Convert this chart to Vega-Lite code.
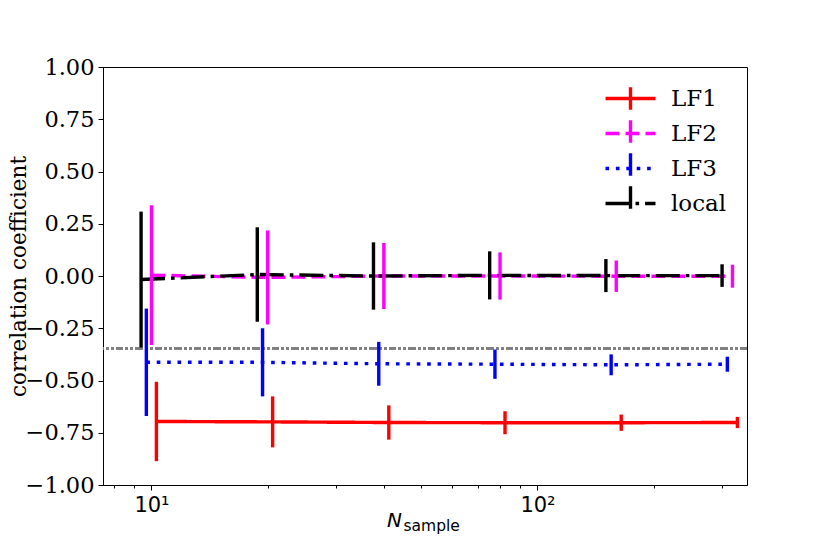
{
  "$schema": "https://vega.github.io/schema/vega-lite/v6.json",
  "width": 644,
  "height": 418,
  "autosize": {"type": "none"},
  "padding": {"left": 103, "top": 67, "right": 83, "bottom": 69},
  "background": "white",
  "config": {
    "view": {"stroke": "black", "strokeWidth": 1},
    "axis": {"grid": false, "domainColor": "black", "tickColor": "black", "labelColor": "black", "titleColor": "black", "domainWidth": 1, "tickWidth": 1}
  },
  "data": {
    "values": [
      {"series": "LF1", "n": 10.3, "r": -0.696, "lo": -0.886, "hi": -0.506},
      {"series": "LF1", "n": 20.6, "r": -0.698, "lo": -0.820, "hi": -0.576},
      {"series": "LF1", "n": 41.2, "r": -0.701, "lo": -0.783, "hi": -0.619},
      {"series": "LF1", "n": 82.4, "r": -0.702, "lo": -0.757, "hi": -0.647},
      {"series": "LF1", "n": 164.8, "r": -0.702, "lo": -0.741, "hi": -0.663},
      {"series": "LF1", "n": 329.6, "r": -0.701, "lo": -0.728, "hi": -0.674},
      {"series": "LF2", "n": 10, "r": 0.004, "lo": -0.330, "hi": 0.338},
      {"series": "LF2", "n": 20, "r": -0.007, "lo": -0.232, "hi": 0.218},
      {"series": "LF2", "n": 40, "r": 0.0, "lo": -0.158, "hi": 0.158},
      {"series": "LF2", "n": 80, "r": 0.0, "lo": -0.113, "hi": 0.113},
      {"series": "LF2", "n": 160, "r": -0.001, "lo": -0.076, "hi": 0.074},
      {"series": "LF2", "n": 320, "r": -0.001, "lo": -0.056, "hi": 0.054},
      {"series": "LF3", "n": 9.7, "r": -0.413, "lo": -0.670, "hi": -0.156},
      {"series": "LF3", "n": 19.4, "r": -0.413, "lo": -0.576, "hi": -0.250},
      {"series": "LF3", "n": 38.8, "r": -0.420, "lo": -0.525, "hi": -0.315},
      {"series": "LF3", "n": 77.6, "r": -0.422, "lo": -0.492, "hi": -0.352},
      {"series": "LF3", "n": 155.2, "r": -0.425, "lo": -0.475, "hi": -0.375},
      {"series": "LF3", "n": 310.4, "r": -0.422, "lo": -0.458, "hi": -0.386},
      {"series": "local", "n": 9.4, "r": -0.017, "lo": -0.342, "hi": 0.308},
      {"series": "local", "n": 18.8, "r": 0.007, "lo": -0.219, "hi": 0.233},
      {"series": "local", "n": 37.6, "r": 0.0, "lo": -0.161, "hi": 0.161},
      {"series": "local", "n": 75.2, "r": 0.003, "lo": -0.112, "hi": 0.118},
      {"series": "local", "n": 150.4, "r": 0.002, "lo": -0.077, "hi": 0.081},
      {"series": "local", "n": 300.8, "r": 0.002, "lo": -0.052, "hi": 0.056}
    ]
  },
  "resolve": {"axis": {"x": "independent"}},
  "layer": [
    {
      "mark": {"type": "rule", "stroke": "#808080", "strokeWidth": 2.4, "strokeDash": [7, 2.5, 2.5, 2.5, 2.5, 2.5]},
      "encoding": {"y": {"datum": -0.345, "type": "quantitative", "scale": {"domain": [-1, 1], "nice": false}, "title": "correlation coefficient"}}
    },
    {
      "mark": {"type": "line", "strokeWidth": 3.4},
      "encoding": {
        "x": {
          "field": "n", "type": "quantitative",
          "scale": {"type": "log", "domain": [7.49, 349], "nice": false},
          "axis": {
            "orient": "bottom", "values": [10, 100],
            "labelExpr": "datum.value == 10 ? '10¹' : '10²'",
            "tickSize": 5, "labelPadding": 4, "labelFont": "DejaVu Sans", "labelFontSize": 21,
            "title": "N", "titleFont": "DejaVu Sans", "titleFontStyle": "italic", "titleFontSize": 20, "titleFontWeight": "normal",
            "titleX": 291, "titleY": 41, "titleAlign": "center", "titleBaseline": "alphabetic"
          }
        },
        "y": {
          "field": "r", "type": "quantitative",
          "scale": {"domain": [-1, 1], "nice": false},
          "axis": {
            "values": [-1, -0.75, -0.5, -0.25, 0, 0.25, 0.5, 0.75, 1],
            "format": ".2f", "tickSize": 5, "labelPadding": 4,
            "labelFont": "DejaVu Serif", "labelFontSize": 22.5,
            "titleFont": "DejaVu Serif", "titleFontSize": 21.5, "titleFontWeight": "normal",
            "titleX": -84, "titleY": 209, "titleAngle": 270, "titleAlign": "center", "titleBaseline": "middle"
          },
          "title": "correlation coefficient"
        },
        "stroke": {
          "field": "series", "type": "nominal",
          "scale": {"domain": ["LF1", "LF2", "LF3", "local"], "range": ["#ff0000", "#ff00ff", "#0000ff", "#000000"]},
          "legend": {
            "orient": "none", "legendX": 513, "legendY": 17, "title": null,
            "symbolType": "M-2,0H2", "symbolSize": 625, "symbolStrokeWidth": 3.4,
            "labelFont": "DejaVu Serif", "labelFontSize": 23, "labelColor": "black",
            "labelOffset": 26, "rowPadding": 8
          }
        },
        "strokeDash": {
          "field": "series", "type": "nominal",
          "scale": {"domain": ["LF1", "LF2", "LF3", "local"], "range": [[1, 0], [14, 6], [3.6, 6.8], [24, 6, 3.6, 6]]},
          "legend": {
            "orient": "none", "legendX": 513, "legendY": 17, "title": null,
            "symbolType": "M-2,0H2", "symbolSize": 625, "symbolStrokeWidth": 3.4,
            "labelFont": "DejaVu Serif", "labelFontSize": 23, "labelColor": "black",
            "labelOffset": 26, "rowPadding": 8
          }
        }
      }
    },
    {
      "mark": {"type": "rule", "strokeWidth": 3.4},
      "encoding": {
        "x": {
          "field": "n", "type": "quantitative",
          "scale": {"type": "log", "domain": [7.49, 349], "nice": false},
          "axis": {
            "orient": "bottom", "values": [8, 9, 20, 30, 40, 50, 60, 70, 80, 90, 200, 300],
            "tickSize": 3, "labels": false, "domain": false,
            "title": "sample", "titleFont": "DejaVu Sans", "titleFontSize": 15.5, "titleFontWeight": "normal",
            "titleX": 300, "titleY": 45, "titleAlign": "left", "titleBaseline": "alphabetic"
          }
        },
        "y": {"field": "lo", "type": "quantitative", "title": "correlation coefficient"},
        "y2": {"field": "hi"},
        "color": {
          "field": "series", "type": "nominal",
          "scale": {"range": ["#ff0000", "#ff00ff", "#0000ff", "#000000"]},
          "legend": {
            "orient": "none", "legendX": 513, "legendY": 17, "title": null,
            "symbolType": "M0,-0.9V0.9", "symbolSize": 625, "symbolStrokeWidth": 3.4,
            "labelFont": "DejaVu Serif", "labelFontSize": 23, "labelColor": "black",
            "labelExpr": "''",
            "labelOffset": 26, "rowPadding": -4
          }
        }
      }
    }
  ]
}
